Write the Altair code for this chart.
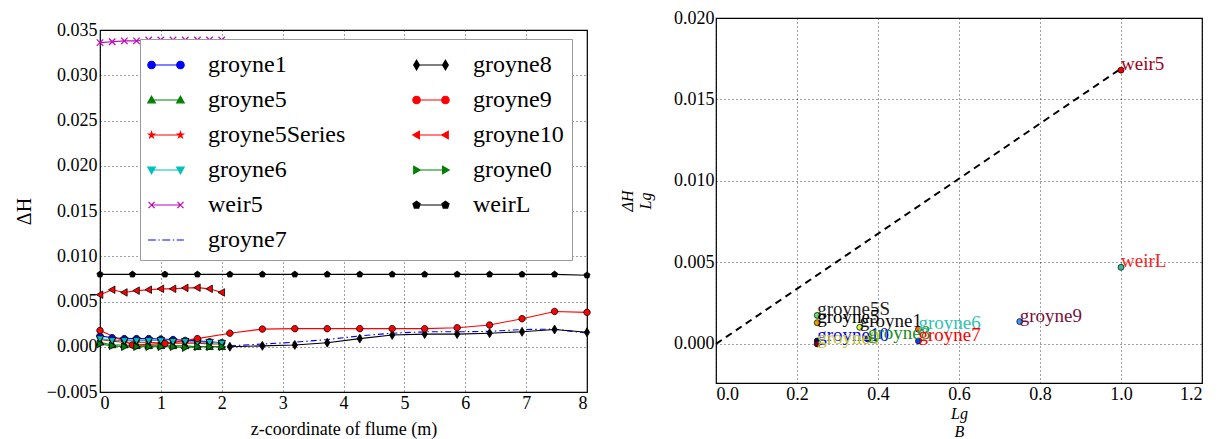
import math
import altair as alt
import pandas as pd

FONT = "Liberation Serif"

# ---------------- left panel data ----------------
x11 = [0.0, 0.2, 0.4, 0.6, 0.8, 1.0, 1.2, 1.4, 1.6, 1.8, 2.0]
x16 = [0.0, 0.533, 1.067, 1.6, 2.133, 2.667, 3.2, 3.733, 4.267, 4.8, 5.333, 5.867, 6.4, 6.933, 7.467, 8.0]
x12 = [2.133, 2.667, 3.2, 3.733, 4.267, 4.8, 5.333, 5.867, 6.4, 6.933, 7.467, 8.0]

groyne1 = [0.0012, 0.0010, 0.0009, 0.0009, 0.0009, 0.00085, 0.0008, 0.0007, 0.00065, 0.00055, 0.00045]
groyne5 = [0.0005, 0.0002, 0.0002, 0.0001, 0.0001, 0.0001, 0.0001, 0.0001, 0.0000, 0.0000, 0.0000]
groyne5Series = [0.0008, 0.0006, 0.0005, 0.0005, 0.0005, 0.0004, 0.0004, 0.0004, 0.0004, 0.0003, 0.0003]
groyne6 = [0.0009, 0.0007, 0.0007, 0.0007, 0.0007, 0.0007, 0.0006, 0.0006, 0.0005, 0.0005, 0.0004]
weir5 = [0.0336, 0.0337, 0.0338, 0.0338, 0.0339, 0.0339, 0.0339, 0.0339, 0.0339, 0.0339, 0.0339]
groyne7 = [0.0001, 0.0003, 0.0005, 0.0008, 0.0012, 0.0015, 0.00165, 0.00165, 0.0017, 0.0019, 0.00195, 0.0015]
groyne8 = [0.0000, 0.0001, 0.0002, 0.00045, 0.0009, 0.0013, 0.0014, 0.0014, 0.0015, 0.00165, 0.0019, 0.0016]
groyne9 = [0.0018, 0.0002, 0.00035, 0.0009, 0.0015, 0.00195, 0.002, 0.002, 0.002, 0.002, 0.002, 0.0021, 0.0024, 0.0031, 0.0039, 0.0038]
groyne10 = [0.00575, 0.0063, 0.0060, 0.0062, 0.0063, 0.0064, 0.0064, 0.0065, 0.00653, 0.0064, 0.0060]
groyne0 = [0.0003, 0.0001, 0.0000, 0.0000, 0.0000, 0.0000, 0.0000, -0.0001, 0.0000, 0.0000, 0.0000]
weirL = [0.0080, 0.0080, 0.0080, 0.0080, 0.0080, 0.0080, 0.0080, 0.0080, 0.0080, 0.0080, 0.0080, 0.0080, 0.0080, 0.0080, 0.0080, 0.0079]

# name, x, y, colour, marker, dash
series = [
    ("groyne1", x11, groyne1, "#0000ff", "circle", None),
    ("groyne5", x11, groyne5, "#008000", "tri-up", None),
    ("groyne5Series", x11, groyne5Series, "#ff0000", "star", None),
    ("groyne6", x11, groyne6, "#00bfbf", "tri-down", None),
    ("weir5", x11, weir5, "#bf00bf", "x", None),
    ("groyne7", x12, groyne7, "#0000ff", None, [6, 3, 1.5, 3]),
    ("groyne8", x12, groyne8, "#000000", "diamond", None),
    ("groyne9", x16, groyne9, "#ff0000", "circle", None),
    ("groyne10", x11, groyne10, "#ff0000", "tri-left", None),
    ("groyne0", x11, groyne0, "#008000", "tri-right", None),
    ("weirL", x16, weirL, "#000000", "pentagon", None),
]
legend_order = ["groyne1", "groyne5", "groyne5Series", "groyne6", "weir5", "groyne7",
                "groyne8", "groyne9", "groyne10", "groyne0", "weirL"]

# ---------------- right panel data ----------------
r_names = ["groyne5S", "groyne5", "groyne1", "groyne10", "groyne0", "groyne8",
           "groyne6", "groyne7", "groyne9", "weir5", "weirL"]
r_lgb = [0.25, 0.25, 0.355, 0.25, 0.25, 0.375, 0.5, 0.5, 0.75, 1.0, 1.0]
r_dhlg = [0.00175, 0.0013, 0.00102, 0.00018, 0.0000, 0.0003, 0.0009, 0.00018, 0.00137, 0.0168, 0.0047]
r_pt_colors = ["#66dd66", "#e6a000", "#ccff44", "#000080", "#800000", "#1a3cff",
               "#ff6600", "#0044ff", "#3399ff", "#ee0000", "#33bb99"]
r_txt_colors = ["#222222", "#000000", "#111111", "#0000ff", "#c8c820", "#228b22",
                "#2ec4b0", "#ff0000", "#7a1040", "#a00020", "#ff2020"]
dash_x = [0.0, 1.0]
dash_y = [0.0, 0.0169]


# ---------------- marker paths (style) ----------------
def f(v):
    return f"{v:.3f}"


def marker_path(kind, cx=0.0, r=1.0):
    if kind == "circle":
        return (f"M{f(cx - r)},0A{f(r)},{f(r)} 0 1,0 {f(cx + r)},0"
                f"A{f(r)},{f(r)} 0 1,0 {f(cx - r)},0Z")
    if kind == "tri-up":
        return f"M{f(cx)},{f(-r)}L{f(cx + r)},{f(0.75 * r)}L{f(cx - r)},{f(0.75 * r)}Z"
    if kind == "tri-down":
        return f"M{f(cx)},{f(r)}L{f(cx + r)},{f(-0.75 * r)}L{f(cx - r)},{f(-0.75 * r)}Z"
    if kind == "tri-left":
        return f"M{f(cx - r)},0L{f(cx + 0.75 * r)},{f(-r)}L{f(cx + 0.75 * r)},{f(r)}Z"
    if kind == "tri-right":
        return f"M{f(cx + r)},0L{f(cx - 0.75 * r)},{f(-r)}L{f(cx - 0.75 * r)},{f(r)}Z"
    if kind == "diamond":
        return f"M{f(cx)},{f(-r)}L{f(cx + 0.6 * r)},0L{f(cx)},{f(r)}L{f(cx - 0.6 * r)},0Z"
    if kind == "x":
        return (f"M{f(cx - r)},{f(-r)}L{f(cx + r)},{f(r)}"
                f"M{f(cx - r)},{f(r)}L{f(cx + r)},{f(-r)}")
    if kind == "star":
        pts = []
        for i in range(10):
            a = -math.pi / 2 + i * math.pi / 5
            rr = r if i % 2 == 0 else 0.4 * r
            pts.append(f"{f(cx + rr * math.cos(a))},{f(rr * math.sin(a))}")
        return "M" + "L".join(pts) + "Z"
    if kind == "pentagon":
        pts = []
        for i in range(5):
            a = -math.pi / 2 + i * 2 * math.pi / 5
            pts.append(f"{f(cx + r * math.cos(a))},{f(r * math.sin(a))}")
        return "M" + "L".join(pts) + "Z"
    return ""


def legend_path(kind, dashed):
    if dashed:
        return "M-1.05,0H-0.6M-0.45,0H-0.37M-0.22,0H0.25M0.4,0H0.48M0.63,0H1.05"
    mr = {"star": 0.18, "diamond": 0.28, "x": 0.18}.get(kind, 0.22)
    return ("M-0.85,0L0.85,0" + marker_path(kind, -0.85, mr) + marker_path(kind, 0.85, mr))


marker_size = {"circle": 42, "tri-up": 56, "tri-down": 56, "tri-left": 56, "tri-right": 56,
               "diamond": 80, "x": 42, "star": 42, "pentagon": 42}

rows = []
for name, xs, ys, col, mk, dash in series:
    for xv, yv in zip(xs, ys):
        rows.append({"series": name, "x": xv, "y": yv})
df_left = pd.DataFrame(rows)

X1 = alt.X("x:Q", scale=alt.Scale(domain=[0, 8], nice=False),
           axis=alt.Axis(values=list(range(9)), format="d", title="z-coordinate of flume (m)",
                         labelFont=FONT, titleFont=FONT, labelPadding=2, titlePadding=8))
Y1 = alt.Y("y:Q", scale=alt.Scale(domain=[-0.005, 0.035], nice=False),
           axis=alt.Axis(values=[-0.005, 0.0, 0.005, 0.01, 0.015, 0.02, 0.025, 0.03, 0.035],
                         format=".3f", title="ΔH", titleFontSize=20, labelPadding=3,
                         labelFont=FONT, titleFont=FONT, titlePadding=12))

layers = []
for name, xs, ys, col, mk, dash in series:
    base = alt.Chart(df_left).transform_filter(alt.datum.series == name)
    lkw = dict(color=col, strokeWidth=1.1)
    if dash:
        lkw["strokeDash"] = dash
    layers.append(base.mark_line(**lkw).encode(x=X1, y=Y1))
for name, xs, ys, col, mk, dash in series:
    if mk is None:
        continue
    base = alt.Chart(df_left).transform_filter(alt.datum.series == name)
    edge = col if mk == "x" else "#000000"
    layers.append(base.mark_point(shape=marker_path(mk), filled=True, fill=col, stroke=edge,
                                  strokeWidth=0.8 if mk != "x" else 1.2,
                                  size=marker_size[mk], opacity=1).encode(x=X1, y=Y1))

info = {s[0]: s for s in series}
leg_paths = [legend_path(info[n][4], info[n][5] is not None) for n in legend_order]
leg_colors = [info[n][3] for n in legend_order]
df_leg = pd.DataFrame({"lg": legend_order, "x": [None] * len(legend_order),
                       "y": [None] * len(legend_order)})
leg = alt.Legend(title=None, orient="none", legendX=40, legendY=9, columns=2,
                 symbolSize=1156, symbolStrokeWidth=1.2, labelFont=FONT, labelFontSize=24,
                 labelColor="black", labelOffset=24, labelLimit=400, columnPadding=64,
                 rowPadding=5, padding=8, strokeColor="#999999", fillColor="white")
legend_layer = alt.Chart(df_leg).mark_point(filled=True, opacity=1, strokeWidth=1.2).encode(
    x=X1, y=Y1,
    shape=alt.Shape("lg:N", scale=alt.Scale(domain=legend_order, range=leg_paths), legend=leg),
    fill=alt.Fill("lg:N", scale=alt.Scale(domain=legend_order, range=leg_colors), legend=leg),
    stroke=alt.Stroke("lg:N", scale=alt.Scale(domain=legend_order, range=leg_colors), legend=leg),
)
layers.append(legend_layer)

left = alt.layer(*layers).properties(width=487, height=362)

# tiny empty block above the left panel (its frame starts lower than the right one)
spacer = alt.Chart(pd.DataFrame({"s": []})).mark_point(opacity=0).properties(
    width=487, height=1, view=alt.ViewBackground(stroke="transparent"))

left_col = alt.vconcat(spacer, left, spacing=0).resolve_scale(
    fill="independent", stroke="independent", shape="independent", color="independent")

# ---------------- right panel ----------------
df_r = pd.DataFrame({"name": r_names, "lgb": r_lgb, "dhlg": r_dhlg})
df_dash = pd.DataFrame({"lgb": dash_x, "dhlg": dash_y})
X2 = alt.X("lgb:Q", scale=alt.Scale(domain=[0, 1.2], nice=False),
           axis=alt.Axis(values=[0.0, 0.2, 0.4, 0.6, 0.8, 1.0, 1.2], format=".1f",
                         title=["Lg", "B"], titleFontSize=16, titleFontStyle="italic",
                         labelFont=FONT, titleFont=FONT, labelPadding=2, titlePadding=2))
Y2 = alt.Y("dhlg:Q", scale=alt.Scale(domain=[-0.0024, 0.020], nice=False),
           axis=alt.Axis(values=[0.0, 0.005, 0.01, 0.015, 0.02], format=".3f",
                         title=["ΔH", "Lg"], titleFontSize=16, titleFontStyle="italic",
                         labelFont=FONT, titleFont=FONT, labelPadding=2, titlePadding=20))
dashed = alt.Chart(df_dash).mark_line(color="black", strokeDash=[7, 5], strokeWidth=2).encode(
    x=X2, y=Y2)
pts = alt.Chart(df_r).mark_point(shape="circle", filled=True, size=36, stroke="black",
                                 strokeWidth=0.7, opacity=1).encode(
    x=X2, y=Y2,
    fill=alt.Fill("name:N", scale=alt.Scale(domain=r_names, range=r_pt_colors), legend=None))
txt = alt.Chart(df_r).mark_text(align="left", baseline="alphabetic", font=FONT,
                                fontSize=19).encode(
    x=X2, y=Y2, text="name:N",
    color=alt.Color("name:N", scale=alt.Scale(domain=r_names, range=r_txt_colors), legend=None))
right = alt.layer(dashed, pts, txt).properties(width=486, height=365)

chart = alt.hconcat(left_col, right, spacing=25).resolve_scale(
    fill="independent", stroke="independent", shape="independent", color="independent"
).properties(
    padding={"left": 5, "right": 5, "top": 0, "bottom": 0}
).configure(font=FONT).configure_view(stroke="black", strokeWidth=1.2).configure_axis(
    labelFont=FONT, labelFontSize=18, labelColor="black", titleFont=FONT, titleFontSize=18,
    titleColor="black", titleFontWeight="normal", domain=False, ticks=False,
    grid=True, gridColor="#000000", gridOpacity=0.75, gridDash=[1, 3], gridWidth=1
).configure_legend(labelFont=FONT)

chart.save("out.html", embed_options={"renderer": "svg", "actions": False})
